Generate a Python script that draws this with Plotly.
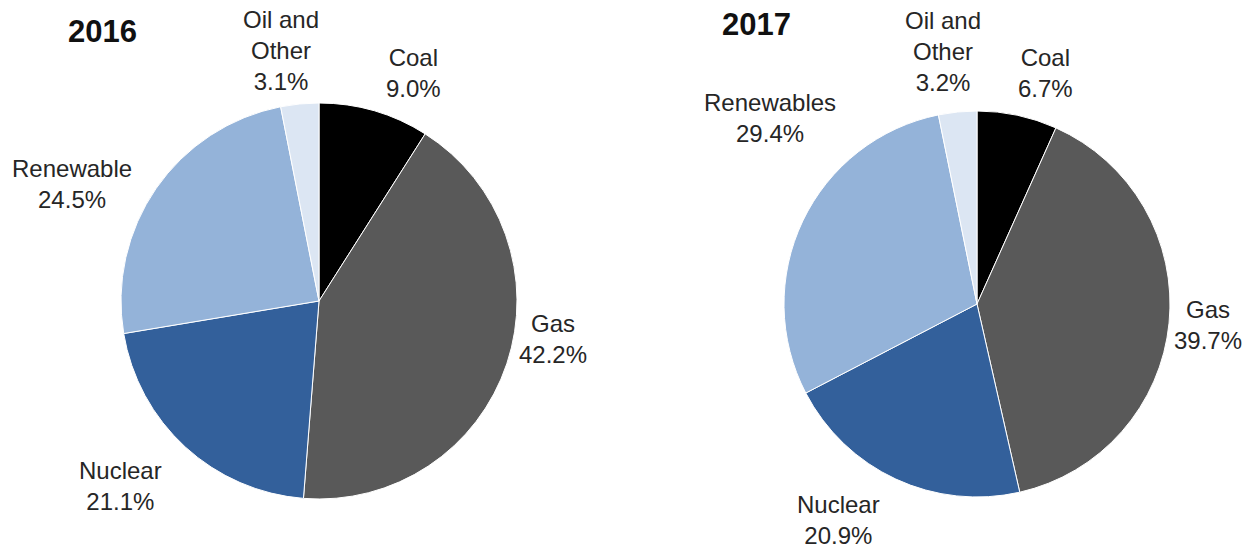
import plotly.graph_objects as go

# ---- data ----
categories_2016 = ["Coal", "Gas", "Nuclear", "Renewable", "Oil and<br>Other"]
values_2016 = [9.0, 42.2, 21.1, 24.5, 3.1]
categories_2017 = ["Coal", "Gas", "Nuclear", "Renewables", "Oil and<br>Other"]
values_2017 = [6.7, 39.7, 20.9, 29.4, 3.2]
titles = ["2016", "2017"]

# ---- styling / layout ----
colors = ["#000000", "#595959", "#33609b", "#94b3d9", "#dce6f3"]
FONT = "Liberation Sans, Arial, sans-serif"
W, H = 1255, 552


def dom(cx, cy, r):
    return dict(x=[(cx - r) / W, (cx + r) / W], y=[1 - (cy + r) / H, 1 - (cy - r) / H])


def px(x, y):
    return x / W, 1 - y / H


# pie centre / radius (pixels)
pie_geom = [(319, 301, 198), (977, 304, 193)]
# label centres (pixels), in category order
label_pos = [
    [(413, 73), (553, 339), (120, 486), (72, 184), (281, 51)],
    [(1045, 73), (1208, 325), (838, 520), (770, 118), (943, 52)],
]
title_pos = [(103, 31), (756, 25)]

fig = go.Figure()
datasets = [(categories_2016, values_2016), (categories_2017, values_2017)]
for i, (cats, vals) in enumerate(datasets):
    cx, cy, r = pie_geom[i]
    fig.add_trace(go.Pie(labels=cats, values=vals, domain=dom(cx, cy, r),
                         sort=False, direction="clockwise", rotation=0,
                         marker=dict(colors=colors, line=dict(color="white", width=1)),
                         textinfo="none", hoverinfo="label+value", showlegend=False,
                         automargin=False))
    for cat, val, (lx, ly) in zip(cats, vals, label_pos[i]):
        ax, ay = px(lx, ly)
        fig.add_annotation(text=f"{cat}<br>{val:.1f}%", x=ax, y=ay, xref="paper", yref="paper",
                           xanchor="center", yanchor="middle", showarrow=False,
                           font=dict(family=FONT, size=24, color="#262626"))
    tx, ty = px(*title_pos[i])
    fig.add_annotation(text="<b>" + titles[i] + "</b>", x=tx, y=ty, xref="paper", yref="paper",
                       xanchor="center", yanchor="middle", showarrow=False,
                       font=dict(family=FONT, size=31, color="#111111"))

fig.update_layout(width=W, height=H, margin=dict(l=0, r=0, t=0, b=0),
                  paper_bgcolor="white", plot_bgcolor="white")
fig.write_html("out.html", config={"displayModeBar": False},
               post_script="document.body.style.margin='0';document.body.style.overflow='hidden';")
